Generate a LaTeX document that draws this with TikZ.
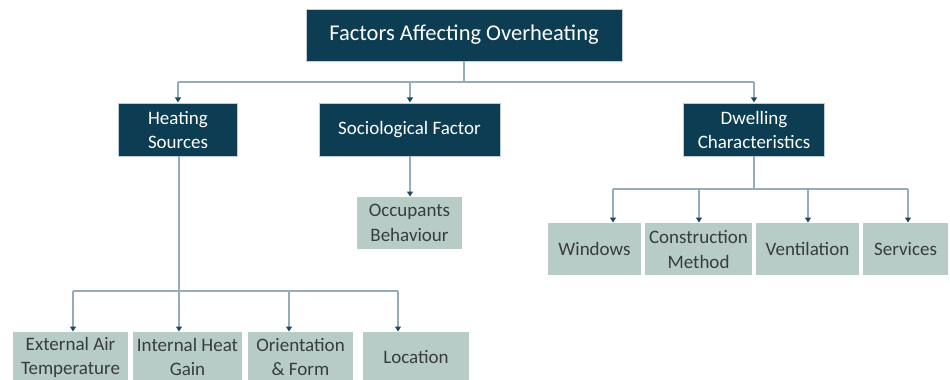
\documentclass[tikz,border=0pt]{standalone}
\usepackage{fontspec}
\setmainfont{Carlito}
\usetikzlibrary{arrows.meta}
\definecolor{darkbox}{RGB}{12,61,82}
\definecolor{lightbox}{RGB}{184,204,199}
\definecolor{linec}{RGB}{150,172,184}
\definecolor{tipc}{RGB}{30,72,96}
\definecolor{txtdark}{RGB}{55,60,60}
\tikzset{
  dbox/.style={fill=darkbox, draw=linec!60, line width=0.6pt, text=white, inner sep=0pt, align=center,
    font=\fontsize{19}{24}\selectfont},
  lbox/.style={fill=lightbox, draw=none, text=txtdark, inner sep=0pt, align=center,
    minimum height=52pt, font=\fontsize{19}{25}\selectfont},
  conn/.style={draw=linec, line width=1.4pt},
  arr/.style={conn, -{Triangle[length=5pt,width=6pt,color=tipc]}, shorten >=0.3pt},
}
\begin{document}
\begin{tikzpicture}[x=1pt,y=-1pt]
\useasboundingbox (0,0) rectangle (950,380);
% nodes
\node[dbox, minimum width=316pt, minimum height=52pt, font=\fontsize{22.5}{26}\selectfont] (top) at (464,35) {Factors Affecting Overheating};
\node[dbox, minimum width=119pt, minimum height=53pt] (hs) at (178,129.5) {Heating\\Sources};
\node[dbox, minimum width=181pt, minimum height=53pt] (sf) at (409.5,129.5) {Sociological Factor};
\node[dbox, minimum width=141pt, minimum height=53pt] (dc) at (754,129.5) {Dwelling\\Characteristics};
\node[lbox, minimum width=105pt] (occ) at (409.5,223) {Occupants\\Behaviour};
\node[lbox, minimum width=93pt] (win) at (594.5,249) {Windows};
\node[lbox, minimum width=107pt] (con) at (698.5,249) {Construction\\Method};
\node[lbox, minimum width=103pt] (ven) at (807.5,249) {Ventilation};
\node[lbox, minimum width=85pt] (ser) at (905.5,249) {Services};
\node[lbox, minimum width=115pt, minimum height=50pt, font=\fontsize{19}{24}\selectfont] (ext) at (70.5,357) {External Air\\Temperature};
\node[lbox, minimum width=109pt, minimum height=50pt, font=\fontsize{19}{24}\selectfont] (int) at (187.5,357) {Internal Heat\\Gain};
\node[lbox, minimum width=105pt, minimum height=50pt, font=\fontsize{19}{24}\selectfont] (ori) at (300.5,357) {Orientation\\\& Form};
\node[lbox, minimum width=106pt, minimum height=50pt] (loc) at (416,357) {Location};
% junctions
\coordinate (j0) at (464,82);
\coordinate (jh) at (178,82);
\coordinate (js) at (410,82);
\coordinate (jd) at (754,82);
\coordinate (h0) at (179,291);
\coordinate (h1) at (73,291);
\coordinate (h2) at (179,291);
\coordinate (h3) at (289,291);
\coordinate (h4) at (398,291);
\coordinate (d0) at (754,189);
\coordinate (d1) at (613,189);
\coordinate (d2) at (699,189);
\coordinate (d3) at (808,189);
\coordinate (d4) at (908,189);
% connectors
\draw[conn] (top.south) -- (j0);
\draw[conn] (jh) -- (jd);
\draw[arr] (jh) -- (jh |- hs.north);
\draw[arr] (js) -- (js |- sf.north);
\draw[arr] (jd) -- (jd |- dc.north);
\draw[arr] (sf.south -| js) -- (js |- occ.north);
\draw[conn] (hs.south -| h0) -- (h0);
\draw[conn] (h1) -- (h4);
\draw[arr] (h1) -- (h1 |- ext.north);
\draw[arr] (h2) -- (h2 |- int.north);
\draw[arr] (h3) -- (h3 |- ori.north);
\draw[arr] (h4) -- (h4 |- loc.north);
\draw[conn] (dc.south) -- (d0);
\draw[conn] (d1) -- (d4);
\draw[arr] (d1) -- (d1 |- win.north);
\draw[arr] (d2) -- (d2 |- con.north);
\draw[arr] (d3) -- (d3 |- ven.north);
\draw[arr] (d4) -- (d4 |- ser.north);
\end{tikzpicture}
\end{document}
